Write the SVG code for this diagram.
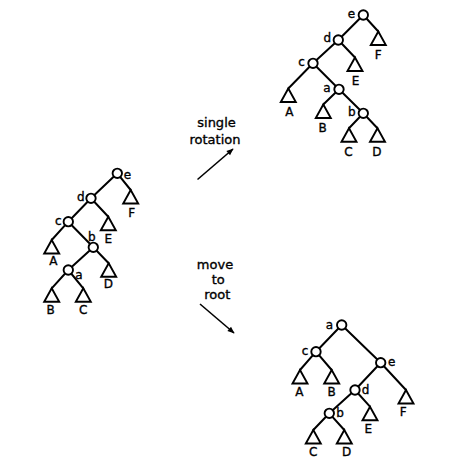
<svg xmlns="http://www.w3.org/2000/svg" xmlns:xlink="http://www.w3.org/1999/xlink" width="455" height="470" viewBox="0 0 455 470">
<style>
.e{stroke:#000;stroke-width:2;fill:none;stroke-linecap:round}
.n{fill:#fff;stroke:#000;stroke-width:1.9}
.t{fill:none;stroke:#000;stroke-width:1.9;stroke-linejoin:miter}
.l{font-family:"DejaVu Sans","Liberation Sans",sans-serif;font-size:12px;fill:#000;stroke:#000;stroke-width:0.35;text-anchor:middle;dominant-baseline:central}
.c{font-family:"DejaVu Sans","Liberation Sans",sans-serif;font-size:13px;fill:#000;stroke:#000;stroke-width:0.35;text-anchor:middle}
.a{stroke:#000;stroke-width:1.6;fill:none}
</style>
<defs>
<path id="tri" d="M0,0 L-7.5,13.5 L7.5,13.5 Z"/>
<circle id="nd" r="4.7"/>
<marker id="ah" viewBox="0 0 10 10" refX="9" refY="5" markerWidth="8" markerHeight="7" orient="auto" markerUnits="userSpaceOnUse">
<path d="M0,1 L10,5 L0,9 Z" fill="#000"/>
</marker>
</defs>

<g id="connectors">
<path class="e" d="M363.3,15 L338.3,40 M363.3,15 L378.3,31.5 M338.3,40 L313,63.3 M338.3,40 L355,57.5 M313,63.3 L288.3,88.5 M313,63.3 L339,89.3 M339,89.3 L323.3,104.5 M339,89.3 L363.3,113.3 M363.3,113.3 L349,128.3 M363.3,113.3 L377.5,128.3"/>
<path class="e" d="M117.3,173.3 L91,198.3 M117.3,173.3 L130.7,190 M91,198.3 L68.3,221.7 M91,198.3 L108.3,216.7 M68.3,221.7 L51.7,240 M68.3,221.7 L93.3,247.3 M93.3,247.3 L68.3,270 M93.3,247.3 L108.7,263.3 M68.3,270 L51.7,288.3 M68.3,270 L83.3,288.3"/>
<path class="e" d="M341.7,325 L316,351.7 M341.7,325 L380.7,362.7 M316,351.7 L300,370 M316,351.7 L331.7,370 M380.7,362.7 L355,390 M380.7,362.7 L406,390 M355,390 L329.3,413.3 M355,390 L370,406.7 M329.3,413.3 L313.3,430 M329.3,413.3 L344.3,430"/>
<line class="a" x1="197.5" y1="179.5" x2="233" y2="149" marker-end="url(#ah)"/>
<line class="a" x1="200" y1="304" x2="234" y2="333" marker-end="url(#ah)"/>
</g>

<g id="tree-single-rotation">
<use href="#nd" class="n" x="363.3" y="15"/><text class="l" x="351.5" y="13.5">e</text>
<use href="#nd" class="n" x="338.3" y="40"/><text class="l" x="327.3" y="37.5">d</text>
<use href="#nd" class="n" x="313" y="63.3"/><text class="l" x="301.5" y="62">c</text>
<use href="#nd" class="n" x="339" y="89.3"/><text class="l" x="327" y="87.5">a</text>
<use href="#nd" class="n" x="363.3" y="113.3"/><text class="l" x="351.7" y="112">b</text>
<use href="#tri" class="t" x="378.3" y="31.5"/><text class="l" x="378.3" y="55">F</text>
<use href="#tri" class="t" x="355" y="57.5"/><text class="l" x="355.5" y="80.5">E</text>
<use href="#tri" class="t" x="288.3" y="88.5"/><text class="l" x="289.3" y="111.5">A</text>
<use href="#tri" class="t" x="323.3" y="104.5"/><text class="l" x="322.7" y="127.5">B</text>
<use href="#tri" class="t" x="349" y="128.3"/><text class="l" x="348.5" y="151.5">C</text>
<use href="#tri" class="t" x="377.5" y="128.3"/><text class="l" x="376.8" y="151.5">D</text>
</g>

<g id="tree-original">
<use href="#nd" class="n" x="117.3" y="173.3"/><text class="l" x="127.5" y="174.5">e</text>
<use href="#nd" class="n" x="91" y="198.3"/><text class="l" x="80.7" y="197">d</text>
<use href="#nd" class="n" x="68.3" y="221.7"/><text class="l" x="58.3" y="221">c</text>
<use href="#nd" class="n" x="93.3" y="247.3"/><text class="l" x="91.7" y="237">b</text>
<use href="#nd" class="n" x="68.3" y="270"/><text class="l" x="79" y="274.5">a</text>
<use href="#tri" class="t" x="130.7" y="190"/><text class="l" x="131.7" y="213">F</text>
<use href="#tri" class="t" x="108.3" y="216.7"/><text class="l" x="108.3" y="239">E</text>
<use href="#tri" class="t" x="51.7" y="240"/><text class="l" x="53.3" y="261">A</text>
<use href="#tri" class="t" x="108.7" y="263.3"/><text class="l" x="108.3" y="284">D</text>
<use href="#tri" class="t" x="51.7" y="288.3"/><text class="l" x="50.7" y="310">B</text>
<use href="#tri" class="t" x="83.3" y="288.3"/><text class="l" x="83.3" y="310">C</text>
</g>

<g id="tree-move-to-root">
<use href="#nd" class="n" x="341.7" y="325"/><text class="l" x="329.5" y="324.5">a</text>
<use href="#nd" class="n" x="316" y="351.7"/><text class="l" x="305" y="351">c</text>
<use href="#nd" class="n" x="380.7" y="362.7"/><text class="l" x="391.7" y="362">e</text>
<use href="#nd" class="n" x="355" y="390"/><text class="l" x="365.5" y="389.5">d</text>
<use href="#nd" class="n" x="329.3" y="413.3"/><text class="l" x="340" y="413">b</text>
<use href="#tri" class="t" x="300" y="370"/><text class="l" x="299.3" y="391.5">A</text>
<use href="#tri" class="t" x="331.7" y="370"/><text class="l" x="331.7" y="391.5">B</text>
<use href="#tri" class="t" x="406" y="390"/><text class="l" x="403.3" y="411.5">F</text>
<use href="#tri" class="t" x="370" y="406.7"/><text class="l" x="368.3" y="428.5">E</text>
<use href="#tri" class="t" x="313.3" y="430"/><text class="l" x="313.3" y="451.5">C</text>
<use href="#tri" class="t" x="344.3" y="430"/><text class="l" x="346.7" y="451.5">D</text>
</g>

<g id="caption-single-rotation">
<text class="c" x="216.5" y="127">single</text>
<text class="c" x="215" y="144">rotation</text>
</g>
<g id="caption-move-to-root">
<text class="c" x="215" y="268.5">move</text>
<text class="c" x="218.3" y="283.5">to</text>
<text class="c" x="217.3" y="298.5">root</text>
</g>
</svg>
